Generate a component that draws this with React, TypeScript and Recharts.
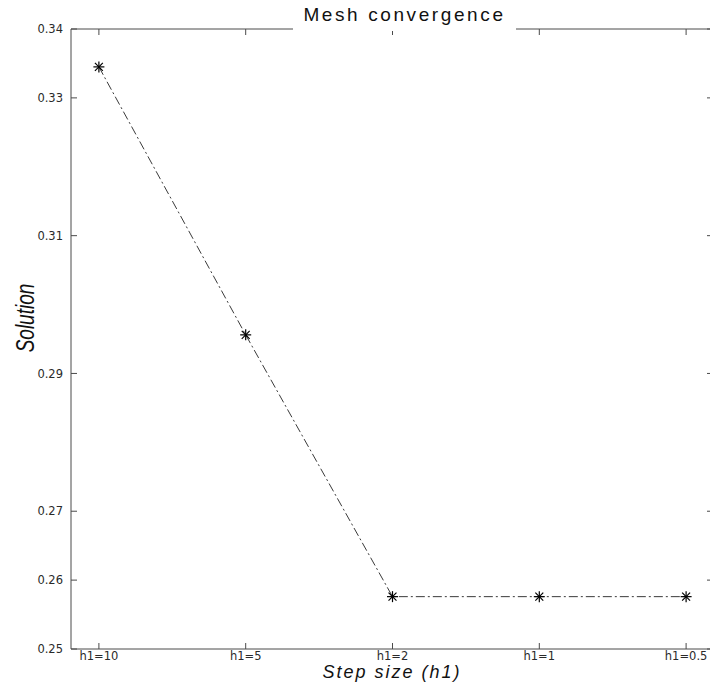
import React from 'react';
import { LineChart, Line, XAxis, YAxis } from 'recharts';

const stepLabels = ['h1=10', 'h1=5', 'h1=2', 'h1=1', 'h1=0.5'];
const stepIndex = [1, 2, 3, 4, 5];
const solutionValues = [0.3345, 0.2956, 0.2576, 0.2576, 0.2576];
const yTicks = [0.25, 0.26, 0.27, 0.29, 0.31, 0.33, 0.34];

const data = stepIndex.map((idx, i) => ({
  idx,
  label: stepLabels[i],
  solution: solutionValues[i],
}));

const axisColor = '#4a4a4a';
const tickFont = { fill: '#2a2a2a', fontSize: 11.5, fontFamily: 'DejaVu Sans' };

const Asterisk = (props: any) => {
  const { cx, cy } = props;
  if (cx == null || cy == null) return null;
  const r = 5.5;
  const d = r * 0.72;
  return (
    <g stroke="#000" strokeWidth={1.2}>
      <line x1={cx - r} y1={cy} x2={cx + r} y2={cy} />
      <line x1={cx} y1={cy - r} x2={cx} y2={cy + r} />
      <line x1={cx - d} y1={cy - d} x2={cx + d} y2={cy + d} />
      <line x1={cx - d} y1={cy + d} x2={cx + d} y2={cy - d} />
    </g>
  );
};

export default function App() {
  return (
    <div
      style={{
        position: 'absolute',
        left: 0,
        top: 0,
        width: 710,
        height: 688,
        overflow: 'hidden',
        background: '#fff',
      }}
    >
      <LineChart
        width={720}
        height={688}
        data={data}
        margin={{ top: 28, right: 5, left: 11, bottom: 9 }}
      >
        <XAxis
          xAxisId="bottom"
          dataKey="idx"
          type="number"
          domain={[0.81, 5.19]}
          ticks={stepIndex}
          allowDataOverflow
          height={30}
          stroke={axisColor}
          tickSize={-6}
          tickMargin={9}
          tick={tickFont}
          tickFormatter={(v: number) => stepLabels[v - 1] ?? ''}
        />
        <XAxis
          xAxisId="top"
          orientation="top"
          dataKey="idx"
          type="number"
          domain={[0.81, 5.19]}
          ticks={stepIndex}
          allowDataOverflow
          height={1}
          stroke={axisColor}
          tickSize={-6}
          tick={tickFont}
          tickFormatter={() => ''}
        />
        <YAxis
          yAxisId="left"
          type="number"
          domain={[0.25, 0.34]}
          ticks={yTicks}
          allowDataOverflow
          width={60}
          stroke={axisColor}
          tickSize={-6}
          tickMargin={14}
          tick={tickFont}
          tickFormatter={(v: number) => v.toFixed(2)}
        />
        <YAxis
          yAxisId="right"
          orientation="right"
          type="number"
          domain={[0.25, 0.34]}
          ticks={yTicks}
          allowDataOverflow
          width={1}
          stroke={axisColor}
          tickSize={-7}
          tick={tickFont}
          tickFormatter={() => ''}
        />
        <Line
          xAxisId="top"
          yAxisId="right"
          dataKey="solution"
          stroke="none"
          dot={false}
          activeDot={false}
          isAnimationActive={false}
        />
        <Line
          xAxisId="bottom"
          yAxisId="left"
          type="linear"
          dataKey="solution"
          stroke="#3a3a3a"
          strokeWidth={1}
          strokeDasharray="9 3 2 3"
          dot={<Asterisk />}
          activeDot={false}
          isAnimationActive={false}
        />
      </LineChart>

      <div
        style={{
          position: 'absolute',
          left: 293,
          top: 0,
          width: 223,
          height: 31,
          background: '#fff',
          textAlign: 'center',
          lineHeight: '30px',
          fontFamily: 'Liberation Sans',
          fontSize: 19,
          letterSpacing: 2.6,
          color: '#111',
        }}
      >
        Mesh convergence
      </div>

      <div
        style={{
          position: 'absolute',
          left: 292,
          top: 664,
          width: 200,
          textAlign: 'center',
          lineHeight: '16px',
          fontFamily: 'Liberation Sans',
          fontStyle: 'italic',
          fontSize: 18,
          letterSpacing: 2,
          color: '#111',
          whiteSpace: 'nowrap',
        }}
      >
        Step size (h1)
      </div>

      <div
        style={{
          position: 'absolute',
          left: 25,
          top: 318,
          transform: 'translate(-50%, -50%) rotate(-90deg) scaleX(0.76)',
          lineHeight: 1,
          fontFamily: 'Liberation Sans',
          fontStyle: 'italic',
          fontSize: 25,
          color: '#111',
          whiteSpace: 'nowrap',
        }}
      >
        Solution
      </div>
    </div>
  );
}
